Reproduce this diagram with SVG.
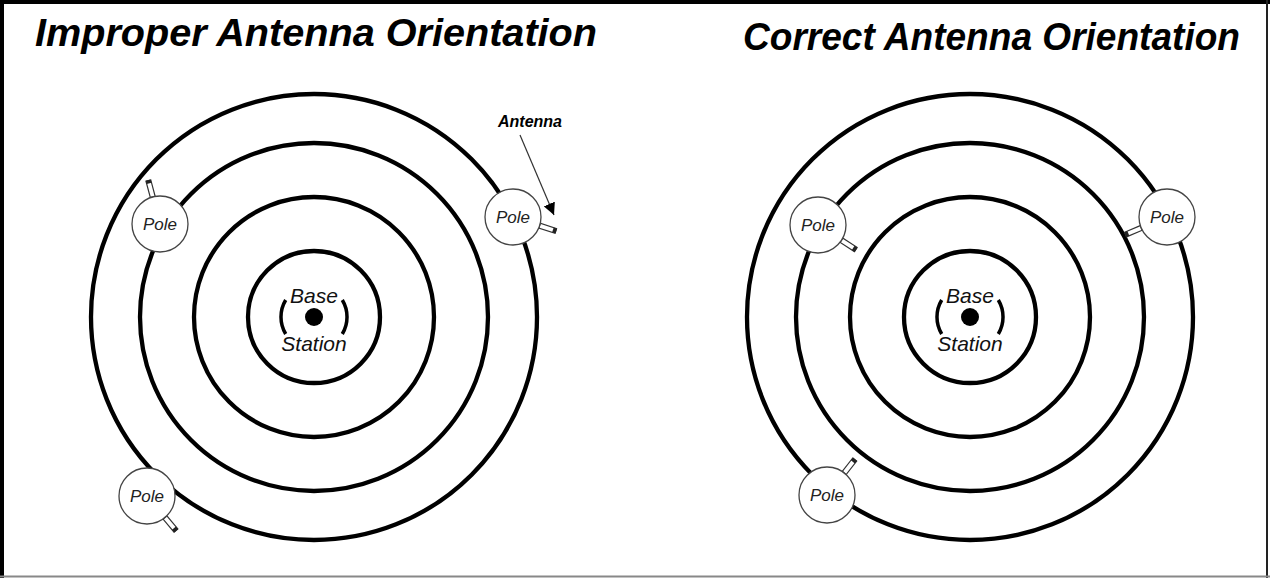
<svg xmlns="http://www.w3.org/2000/svg" width="1270" height="578" viewBox="0 0 1270 578">
<style>
.title{font-family:"Liberation Sans",Arial,sans-serif;font-weight:bold;font-style:italic;font-size:39px;fill:#000}
.ring{fill:none;stroke:#000;stroke-width:4.3}
.pole{fill:#fff;stroke:#444;stroke-width:1.3}
.pt{font-family:"Liberation Sans",Arial,sans-serif;font-style:italic;font-size:17px;fill:#222;text-anchor:middle}
.bt{font-family:"Liberation Sans",Arial,sans-serif;font-style:italic;font-size:21px;fill:#111;text-anchor:middle}
.ant{fill:#fff;stroke:#333;stroke-width:1.2}
.tip{fill:#222}
.arc{fill:none;stroke:#000;stroke-width:3.5}
.lbl{font-family:"Liberation Sans",Arial,sans-serif;font-weight:bold;font-style:italic;font-size:16px;fill:#000;text-anchor:middle}
</style>
<defs>
<g id="antenna"><rect class="ant" x="28" y="-2.5" width="17" height="5"/><rect class="tip" x="42" y="-2.5" width="3.5" height="5"/></g>
<g id="bs">
<circle class="ring" r="66"/>
<circle r="9" fill="#000"/>
<path class="arc" d="M -28.3 -17 A 33 33 0 0 0 -28.3 17"/>
<path class="arc" d="M 28.3 -17 A 33 33 0 0 1 28.3 17"/>
<text class="bt" x="0" y="-14">Base</text>
<text class="bt" x="0" y="34">Station</text>
</g>
<marker id="ah" viewBox="0 0 10 10" refX="10" refY="5" markerWidth="12" markerHeight="12" markerUnits="userSpaceOnUse" orient="auto"><path d="M0 0 L10 5 L0 10 Z" fill="#000"/></marker>
</defs>
<rect width="1270" height="578" fill="#fff"/>
<g id="frame">
<line x1="0" y1="2" x2="1270" y2="2" stroke="#000" stroke-width="4"/>
<line x1="2" y1="0" x2="2" y2="578" stroke="#000" stroke-width="4"/>
<line x1="1267" y1="0" x2="1267" y2="578" stroke="#222" stroke-width="2"/>
<line x1="0" y1="576.5" x2="1270" y2="576.5" stroke="#888" stroke-width="2"/>
</g>
<text class="title" x="35" y="46" textLength="562" lengthAdjust="spacingAndGlyphs">Improper Antenna Orientation</text>
<text class="title" x="743" y="50" textLength="497" lengthAdjust="spacingAndGlyphs">Correct Antenna Orientation</text>

<g id="left-rings">
<circle class="ring" cx="314" cy="317" r="223"/>
<circle class="ring" cx="314" cy="317" r="174"/>
<circle class="ring" cx="314" cy="317" r="120"/>
</g>
<g id="left-base" transform="translate(314,317)"><use href="#bs"/></g>

<g id="right-rings">
<circle class="ring" cx="970" cy="317" r="223"/>
<circle class="ring" cx="970" cy="317" r="174"/>
<circle class="ring" cx="970" cy="317" r="120"/>
</g>
<g id="right-base" transform="translate(970,317)"><use href="#bs"/></g>

<g id="connectors">
<line x1="520" y1="135" x2="554" y2="215" stroke="#333" stroke-width="1.2" marker-end="url(#ah)"/>
</g>
<text class="lbl" x="530" y="127">Antenna</text>

<g id="pole-l1" transform="translate(160,224)"><use href="#antenna" transform="rotate(-105)"/><circle class="pole" r="28"/><text class="pt" y="6">Pole</text></g>
<g id="pole-l2" transform="translate(513,217)"><use href="#antenna" transform="rotate(18)"/><circle class="pole" r="28"/><text class="pt" y="6">Pole</text></g>
<g id="pole-l3" transform="translate(147,496)"><use href="#antenna" transform="rotate(50)"/><circle class="pole" r="28"/><text class="pt" y="6">Pole</text></g>

<g id="pole-r1" transform="translate(818,225)"><use href="#antenna" transform="rotate(33)"/><circle class="pole" r="28"/><text class="pt" y="6">Pole</text></g>
<g id="pole-r2" transform="translate(1167,217)"><use href="#antenna" transform="rotate(157)"/><circle class="pole" r="28"/><text class="pt" y="6">Pole</text></g>
<g id="pole-r3" transform="translate(827,495)"><use href="#antenna" transform="rotate(-52)"/><circle class="pole" r="28"/><text class="pt" y="6">Pole</text></g>
</svg>
